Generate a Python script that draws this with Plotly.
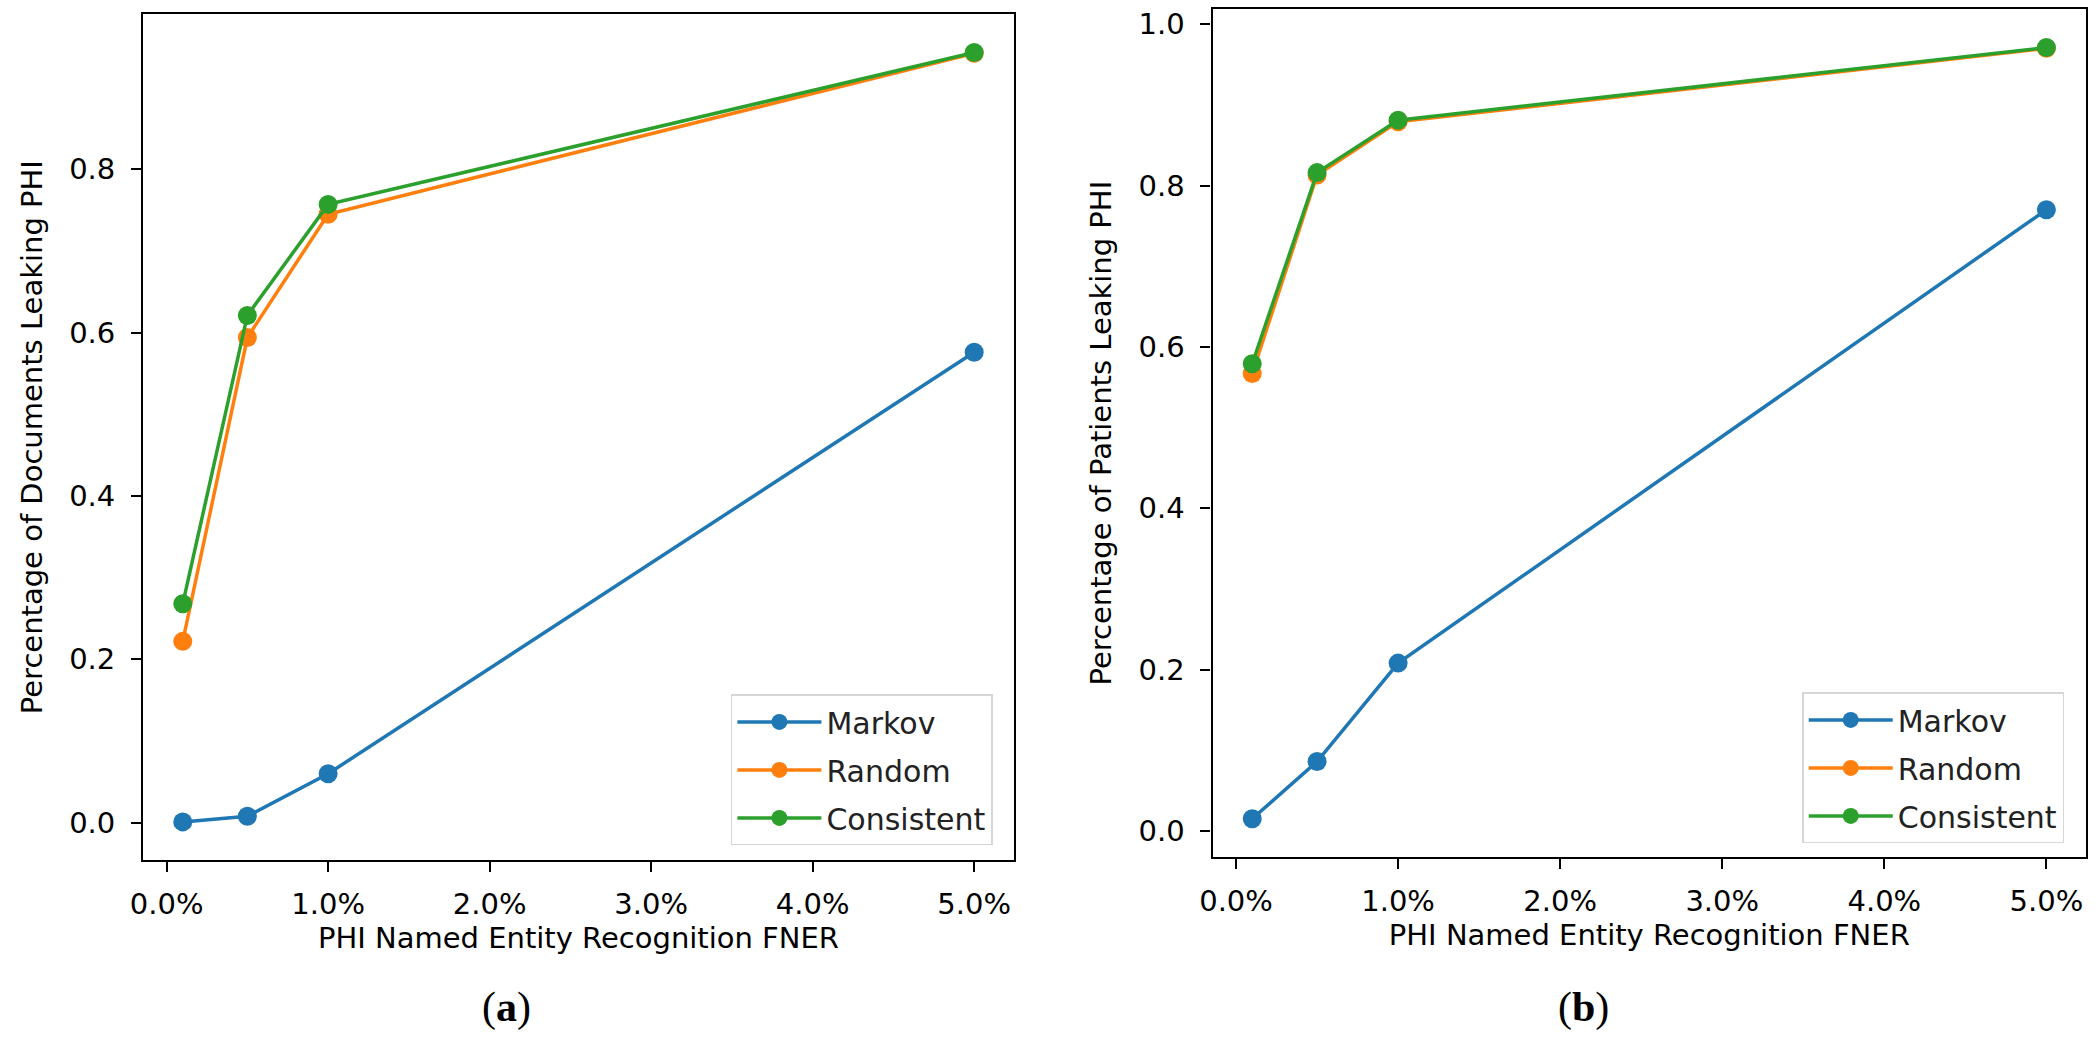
import plotly.graph_objects as go

# ---- data ----
fner = [0.001, 0.005, 0.01, 0.05]
series_names = ["Markov", "Random", "Consistent"]
colors = ["#1f77b4", "#ff7f0e", "#2ca02c"]

docs_markov = [0.001, 0.008, 0.060, 0.576]
docs_random = [0.222, 0.594, 0.745, 0.942]
docs_consistent = [0.268, 0.621, 0.757, 0.943]

pat_markov = [0.015, 0.086, 0.208, 0.770]
pat_random = [0.567, 0.813, 0.879, 0.970]
pat_consistent = [0.579, 0.816, 0.881, 0.971]

xticks = [0.0, 0.01, 0.02, 0.03, 0.04, 0.05]
yticks_a = [0.0, 0.2, 0.4, 0.6, 0.8]
yticks_b = [0.0, 0.2, 0.4, 0.6, 0.8, 1.0]

y_title_a = "Percentage of Documents Leaking PHI"
y_title_b = "Percentage of Patients Leaking PHI"
x_title = "PHI Named Entity Recognition FNER"

W, H = 2100, 1046
FONT = "DejaVu Sans"
FS = 29


def mpl_range(vals, m=0.05):
    lo, hi = min(vals), max(vals)
    d = hi - lo
    return [lo - m * d, hi + m * d]


fig = go.Figure()

panels = [
    ("x", "y", "legend", [docs_markov, docs_random, docs_consistent]),
    ("x2", "y2", "legend2", [pat_markov, pat_random, pat_consistent]),
]
for xa, ya, lg, data in panels:
    for name, col, vals in zip(series_names, colors, data):
        fig.add_trace(go.Scatter(
            x=fner, y=vals, name=name, mode="lines+markers",
            line=dict(color=col, width=3.5),
            marker=dict(color=col, size=19),
            xaxis=xa, yaxis=ya, legend=lg, legendgroup=f"{lg}_{name}",
        ))

xr = mpl_range(fner)
yr_a = mpl_range(docs_markov + docs_random + docs_consistent)
yr_b = mpl_range(pat_markov + pat_random + pat_consistent)

axis_common = dict(
    showline=True, linecolor="black", linewidth=2.2, mirror=True,
    ticks="outside", ticklen=10, tickwidth=2, tickcolor="black",
    showgrid=False, zeroline=False,
    tickfont=dict(family=FONT, size=FS, color="black"),
)
title_font = dict(family=FONT, size=FS, color="black")

legend_common = dict(
    xanchor="right", yanchor="bottom",
    bgcolor="rgba(255,255,255,0.8)", bordercolor="#d6d6d6", borderwidth=1.5,
    font=dict(family=FONT, size=30, color="#222"),
    itemwidth=84, tracegroupgap=6,
)

fig.update_layout(
    width=W, height=H,
    margin=dict(l=0, r=0, t=0, b=0),
    paper_bgcolor="white", plot_bgcolor="white",
    font=dict(family=FONT, size=FS, color="black"),
    showlegend=True,
    xaxis=dict(domain=[131 / W, 1007 / W], range=xr, tickvals=xticks,
               tickformat=".1%", anchor="y", ticklabelstandoff=7,
               title=dict(text=x_title, standoff=7, font=title_font),
               **axis_common),
    yaxis=dict(domain=[1 - 860 / H, 1 - 12 / H], range=yr_a, tickvals=yticks_a,
               tickformat=".1f", anchor="x", ticklabelstandoff=10,
               title=dict(text=y_title_a, standoff=18, font=title_font),
               **axis_common),
    xaxis2=dict(domain=[1207 / W, 2086 / W], range=xr, tickvals=xticks,
                tickformat=".1%", anchor="y2", ticklabelstandoff=7,
                title=dict(text=x_title, standoff=7, font=title_font),
                **axis_common),
    yaxis2=dict(domain=[1 - 857 / H, 1 - 7 / H], range=yr_b, tickvals=yticks_b,
                tickformat=".1f", anchor="x2", ticklabelstandoff=10,
                title=dict(text=y_title_b, standoff=18, font=title_font),
                **axis_common),
    legend=dict(x=986 / W, y=1 - 845 / H, **legend_common),
    legend2=dict(x=2064 / W, y=1 - 843 / H, **legend_common),
)

for txt, cx in [("(<b>a</b>)", 497), ("(<b>b</b>)", 1580)]:
    fig.add_annotation(text=txt, x=cx / W, y=1 - 1007 / H, xref="paper", yref="paper",
                       xanchor="center", yanchor="middle", showarrow=False,
                       font=dict(family="Liberation Serif", size=42, color="black"))

fig.write_html("out.html")
